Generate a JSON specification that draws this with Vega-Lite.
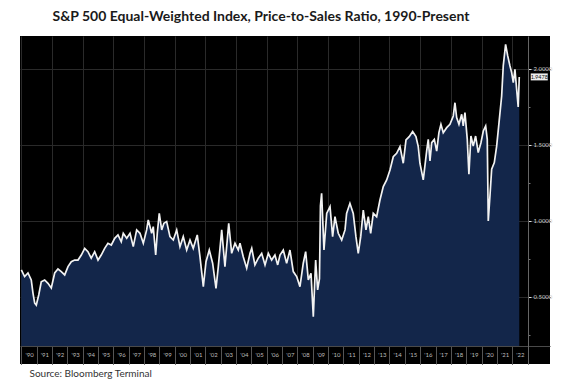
{
  "$schema": "https://vega.github.io/schema/vega-lite/v6.json",
  "width": 530,
  "height": 328,
  "autosize": {"type": "none"},
  "padding": {"left": 20, "top": 36, "right": 14, "bottom": 18},
  "background": "white",
  "view": {"fill": "black", "stroke": null},
  "config": {"axis": {"labelOverlap": false}},
  "title": {
    "text": "S&P 500 Equal-Weighted Index, Price-to-Sales Ratio, 1990-Present",
    "font": "Lato",
    "fontSize": 14,
    "fontWeight": "bold",
    "color": "#1a1a1a",
    "anchor": "middle",
    "offset": 12,
    "dx": -24
  },
  "data": {
    "values": [
      {"date": "1990-01-01", "ratio": 0.678},
      {"date": "1990-03-20", "ratio": 0.634},
      {"date": "1990-06-08", "ratio": 0.658},
      {"date": "1990-08-25", "ratio": 0.612},
      {"date": "1990-10-05", "ratio": 0.526},
      {"date": "1990-11-15", "ratio": 0.46},
      {"date": "1990-12-23", "ratio": 0.447},
      {"date": "1991-02-19", "ratio": 0.513},
      {"date": "1991-04-20", "ratio": 0.6},
      {"date": "1991-07-10", "ratio": 0.612},
      {"date": "1991-09-27", "ratio": 0.59},
      {"date": "1991-12-15", "ratio": 0.559},
      {"date": "1992-03-05", "ratio": 0.658},
      {"date": "1992-05-22", "ratio": 0.684},
      {"date": "1992-08-09", "ratio": 0.667},
      {"date": "1992-10-29", "ratio": 0.645},
      {"date": "1993-01-16", "ratio": 0.7},
      {"date": "1993-04-04", "ratio": 0.732},
      {"date": "1993-06-24", "ratio": 0.743},
      {"date": "1993-09-11", "ratio": 0.743},
      {"date": "1993-11-29", "ratio": 0.776},
      {"date": "1994-02-18", "ratio": 0.82},
      {"date": "1994-05-06", "ratio": 0.798},
      {"date": "1994-07-23", "ratio": 0.755},
      {"date": "1994-10-13", "ratio": 0.798},
      {"date": "1995-01-01", "ratio": 0.743},
      {"date": "1995-03-18", "ratio": 0.776},
      {"date": "1995-06-08", "ratio": 0.82},
      {"date": "1995-08-25", "ratio": 0.853},
      {"date": "1995-11-13", "ratio": 0.842},
      {"date": "1996-02-02", "ratio": 0.886},
      {"date": "1996-04-20", "ratio": 0.908},
      {"date": "1996-07-07", "ratio": 0.864},
      {"date": "1996-08-24", "ratio": 0.919},
      {"date": "1996-11-14", "ratio": 0.886},
      {"date": "1997-02-01", "ratio": 0.919},
      {"date": "1997-04-19", "ratio": 0.831},
      {"date": "1997-07-09", "ratio": 0.941},
      {"date": "1997-09-26", "ratio": 0.919},
      {"date": "1997-12-14", "ratio": 0.853},
      {"date": "1998-03-04", "ratio": 0.941},
      {"date": "1998-04-11", "ratio": 1.007},
      {"date": "1998-07-01", "ratio": 0.919},
      {"date": "1998-08-08", "ratio": 0.963},
      {"date": "1998-10-05", "ratio": 0.776},
      {"date": "1998-11-12", "ratio": 0.919},
      {"date": "1998-12-29", "ratio": 1.05},
      {"date": "1999-02-25", "ratio": 0.941},
      {"date": "1999-04-19", "ratio": 0.985},
      {"date": "1999-06-23", "ratio": 0.996},
      {"date": "1999-09-10", "ratio": 0.897},
      {"date": "1999-11-28", "ratio": 0.875},
      {"date": "2000-02-17", "ratio": 0.941},
      {"date": "2000-05-05", "ratio": 0.831},
      {"date": "2000-07-22", "ratio": 0.897},
      {"date": "2000-10-12", "ratio": 0.809},
      {"date": "2000-12-30", "ratio": 0.875},
      {"date": "2001-03-17", "ratio": 0.82},
      {"date": "2001-06-21", "ratio": 0.908},
      {"date": "2001-08-24", "ratio": 0.765},
      {"date": "2001-11-12", "ratio": 0.568},
      {"date": "2002-01-15", "ratio": 0.732},
      {"date": "2002-04-03", "ratio": 0.809},
      {"date": "2002-06-22", "ratio": 0.722},
      {"date": "2002-09-10", "ratio": 0.557},
      {"date": "2002-11-04", "ratio": 0.7},
      {"date": "2003-01-24", "ratio": 0.941},
      {"date": "2003-04-11", "ratio": 0.7},
      {"date": "2003-07-10", "ratio": 0.985},
      {"date": "2003-09-18", "ratio": 0.787},
      {"date": "2003-12-06", "ratio": 0.853},
      {"date": "2004-02-23", "ratio": 0.809},
      {"date": "2004-04-03", "ratio": 0.853},
      {"date": "2004-06-20", "ratio": 0.765},
      {"date": "2004-09-10", "ratio": 0.689},
      {"date": "2004-11-28", "ratio": 0.787},
      {"date": "2005-01-08", "ratio": 0.82},
      {"date": "2005-03-25", "ratio": 0.711},
      {"date": "2005-06-13", "ratio": 0.755},
      {"date": "2005-09-02", "ratio": 0.787},
      {"date": "2005-11-20", "ratio": 0.711},
      {"date": "2006-02-07", "ratio": 0.787},
      {"date": "2006-04-27", "ratio": 0.743},
      {"date": "2006-07-14", "ratio": 0.776},
      {"date": "2006-09-18", "ratio": 0.711},
      {"date": "2006-11-12", "ratio": 0.776},
      {"date": "2007-01-29", "ratio": 0.809},
      {"date": "2007-04-19", "ratio": 0.722},
      {"date": "2007-07-07", "ratio": 0.809},
      {"date": "2007-09-24", "ratio": 0.667},
      {"date": "2007-12-14", "ratio": 0.634},
      {"date": "2008-03-01", "ratio": 0.568},
      {"date": "2008-05-19", "ratio": 0.722},
      {"date": "2008-07-15", "ratio": 0.798},
      {"date": "2008-09-16", "ratio": 0.612},
      {"date": "2008-11-19", "ratio": 0.656},
      {"date": "2009-01-13", "ratio": 0.37},
      {"date": "2009-03-10", "ratio": 0.743},
      {"date": "2009-04-26", "ratio": 0.546},
      {"date": "2009-06-09", "ratio": 0.62},
      {"date": "2009-07-02", "ratio": 1.1},
      {"date": "2009-07-30", "ratio": 1.182},
      {"date": "2009-09-24", "ratio": 0.809},
      {"date": "2009-11-28", "ratio": 1.05},
      {"date": "2010-02-15", "ratio": 1.094},
      {"date": "2010-04-18", "ratio": 0.897},
      {"date": "2010-06-13", "ratio": 1.028},
      {"date": "2010-08-30", "ratio": 0.919},
      {"date": "2010-11-20", "ratio": 0.875},
      {"date": "2011-02-07", "ratio": 0.941},
      {"date": "2011-03-17", "ratio": 1.05},
      {"date": "2011-06-04", "ratio": 1.116},
      {"date": "2011-08-22", "ratio": 1.05},
      {"date": "2011-10-25", "ratio": 0.897},
      {"date": "2011-12-19", "ratio": 0.787},
      {"date": "2012-02-16", "ratio": 0.897},
      {"date": "2012-04-17", "ratio": 1.072},
      {"date": "2012-06-20", "ratio": 0.941},
      {"date": "2012-08-14", "ratio": 1.028},
      {"date": "2012-10-10", "ratio": 0.919},
      {"date": "2012-12-11", "ratio": 1.05},
      {"date": "2013-03-01", "ratio": 1.028},
      {"date": "2013-05-19", "ratio": 1.138},
      {"date": "2013-08-06", "ratio": 1.226},
      {"date": "2013-10-26", "ratio": 1.27},
      {"date": "2014-01-13", "ratio": 1.336},
      {"date": "2014-04-01", "ratio": 1.423},
      {"date": "2014-06-20", "ratio": 1.445},
      {"date": "2014-09-08", "ratio": 1.489},
      {"date": "2014-11-25", "ratio": 1.38},
      {"date": "2015-01-29", "ratio": 1.533},
      {"date": "2015-04-16", "ratio": 1.555},
      {"date": "2015-07-06", "ratio": 1.588},
      {"date": "2015-09-23", "ratio": 1.555},
      {"date": "2015-11-17", "ratio": 1.489},
      {"date": "2015-12-27", "ratio": 1.38},
      {"date": "2016-03-15", "ratio": 1.27},
      {"date": "2016-06-04", "ratio": 1.46},
      {"date": "2016-07-12", "ratio": 1.537},
      {"date": "2016-08-22", "ratio": 1.395},
      {"date": "2016-10-02", "ratio": 1.515},
      {"date": "2016-12-03", "ratio": 1.537},
      {"date": "2017-01-29", "ratio": 1.46},
      {"date": "2017-03-23", "ratio": 1.581},
      {"date": "2017-05-10", "ratio": 1.636},
      {"date": "2017-07-04", "ratio": 1.581},
      {"date": "2017-09-24", "ratio": 1.614},
      {"date": "2017-12-11", "ratio": 1.636},
      {"date": "2018-02-28", "ratio": 1.691},
      {"date": "2018-04-09", "ratio": 1.778},
      {"date": "2018-05-19", "ratio": 1.68},
      {"date": "2018-07-13", "ratio": 1.636},
      {"date": "2018-09-16", "ratio": 1.702},
      {"date": "2018-10-23", "ratio": 1.625},
      {"date": "2018-12-03", "ratio": 1.713},
      {"date": "2019-01-27", "ratio": 1.537},
      {"date": "2019-03-07", "ratio": 1.307},
      {"date": "2019-04-24", "ratio": 1.559},
      {"date": "2019-06-18", "ratio": 1.493},
      {"date": "2019-08-14", "ratio": 1.559},
      {"date": "2019-10-15", "ratio": 1.45},
      {"date": "2019-12-19", "ratio": 1.515},
      {"date": "2020-02-13", "ratio": 1.592},
      {"date": "2020-04-09", "ratio": 1.625},
      {"date": "2020-05-17", "ratio": 1.537},
      {"date": "2020-06-10", "ratio": 1.0},
      {"date": "2020-07-20", "ratio": 1.164},
      {"date": "2020-08-30", "ratio": 1.34},
      {"date": "2020-11-01", "ratio": 1.384},
      {"date": "2020-12-27", "ratio": 1.493},
      {"date": "2021-02-21", "ratio": 1.647},
      {"date": "2021-04-25", "ratio": 1.822},
      {"date": "2021-06-02", "ratio": 2.02},
      {"date": "2021-07-28", "ratio": 2.162},
      {"date": "2021-09-16", "ratio": 2.086},
      {"date": "2021-11-09", "ratio": 2.02},
      {"date": "2021-12-19", "ratio": 1.976},
      {"date": "2022-01-27", "ratio": 1.91},
      {"date": "2022-03-07", "ratio": 1.998},
      {"date": "2022-04-17", "ratio": 1.866},
      {"date": "2022-05-24", "ratio": 1.75},
      {"date": "2022-06-18", "ratio": 1.9478}
    ]
  },
  "encoding": {
    "x": {
      "field": "date",
      "type": "temporal",
      "scale": {"domain": ["1989-11-30", "2024-06-19"], "nice": false},
      "axis": {
        "orient": "bottom",
        "offset": -18,
        "values": [
          "1990-01-01","1991-01-01","1992-01-01","1993-01-01","1994-01-01","1995-01-01",
          "1996-01-01","1997-01-01","1998-01-01","1999-01-01","2000-01-01","2001-01-01",
          "2002-01-01","2003-01-01","2004-01-01","2005-01-01","2006-01-01","2007-01-01",
          "2008-01-01","2009-01-01","2010-01-01","2011-01-01","2012-01-01","2013-01-01",
          "2014-01-01","2015-01-01","2016-01-01","2017-01-01","2018-01-01","2019-01-01",
          "2020-01-01","2021-01-01","2022-01-01","2023-01-01"
        ],
        "labelExpr": "year(datum.value) > 2022 ? '' : timeFormat(datum.value, \"'%y\")",
        "labelFont": "Lato",
        "labelFontSize": 6,
        "labelColor": "#bbbbbb",
        "labelAlign": "center",
        "labelBaseline": "middle",
        "labelOffset": 7.7,
        "labelPadding": -10,
        "labelOverlap": false,
        "labelFlush": false,
        "labelBound": false,
        "tickSize": 18,
        "tickColor": "#555555",
        "tickWidth": 1,
        "domain": true,
        "domainColor": "#4a4a4a",
        "domainWidth": 1,
        "grid": true,
        "gridColor": {"condition": {"test": "year(datum.value) % 2 == 0", "value": "#2a2a2a"}, "value": "transparent"},
        "gridWidth": 1,
        "title": "Source: Bloomberg Terminal",
        "titleFont": "Lato",
        "titleFontSize": 10,
        "titleFontWeight": "normal",
        "titleColor": "#333333",
        "titleAnchor": "start",
        "titleAlign": "left",
        "titleBaseline": "alphabetic",
        "titleX": 9,
        "titleY": 30
      }
    },
    "y": {
      "field": "ratio",
      "type": "quantitative",
      "scale": {"domain": [0.059, 2.217], "nice": false, "zero": false},
      "axis": {
        "orient": "right",
        "offset": -22,
        "values": [0.25, 0.5, 0.75, 1, 1.25, 1.5, 1.75, 2],
        "labelExpr": "datum.value % 0.5 == 0 ? format(datum.value, '.4f') : ''",
        "labelFont": "Lato",
        "labelFontSize": 6,
        "labelColor": "#cccccc",
        "labelPadding": 2,
        "labelBaseline": "middle",
        "tickSize": {"condition": {"test": "datum.value % 0.5 == 0", "value": 3}, "value": 2},
        "tickColor": {"condition": {"test": "datum.value % 0.5 == 0", "value": "#dddddd"}, "value": "#777777"},
        "domain": true,
        "domainColor": "#666666",
        "domainWidth": 1,
        "grid": true,
        "gridColor": {"condition": {"test": "datum.value % 0.5 == 0", "value": "#2a2a2a"}, "value": "transparent"},
        "title": null
      }
    }
  },
  "layer": [
    {
      "mark": {"type": "area", "color": "#13264a", "interpolate": "linear"},
      "encoding": {
        "y2": {"datum": 0.178}
      }
    },
    {
      "mark": {"type": "line", "color": "#f2f2f2", "strokeWidth": 1.7, "interpolate": "linear"}
    },
    {
      "transform": [{"filter": "datum.ratio == 1.9478"}],
      "mark": {"type": "point", "shape": "M-1,-0.41L1,-0.41L1,0.41L-1,0.41Z", "size": 289, "filled": true, "color": "#eeeeee", "opacity": 1},
      "encoding": {
        "xOffset": {"value": 20}
      }
    },
    {
      "transform": [{"filter": "datum.ratio == 1.9478"}],
      "mark": {"type": "text", "color": "#111111", "font": "Lato", "fontSize": 5.5, "align": "center", "baseline": "middle", "dx": 20},
      "encoding": {
        "text": {"field": "ratio", "format": ".4f"}
      }
    }
  ]
}
